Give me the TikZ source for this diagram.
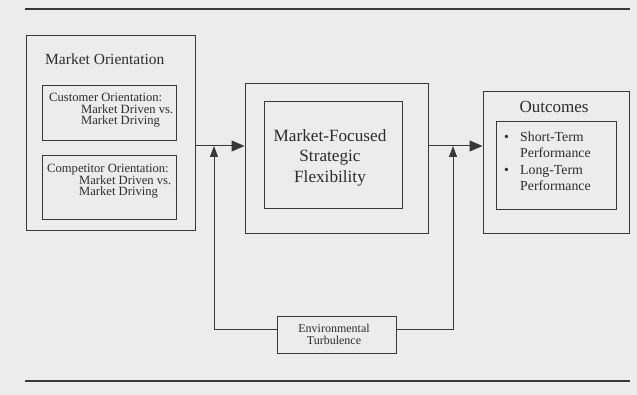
\documentclass[tikz,border=0pt]{standalone}
\usepackage{fontspec}
\setmainfont{Liberation Serif}
\usetikzlibrary{arrows.meta}
\definecolor{paper}{HTML}{ECECEC}
\definecolor{ink}{HTML}{383838}
\definecolor{txt}{HTML}{2C2C2C}
\tikzset{
  box/.style={draw=ink, line width=1pt, inner sep=0pt, anchor=center},
  lbl/.style={text=txt, inner sep=0pt},
  conn/.style={draw=ink, line width=1pt},
  bigtip/.style={-{Triangle[length=13pt,width=11pt]}},
  smalltip/.style={-{Triangle[length=11pt,width=8pt]}},
  rule/.style={draw=ink, line width=2pt},
}
\begin{document}
\begin{tikzpicture}[x=1pt,y=-1pt]
  \useasboundingbox (0,0) rectangle (637,395);
  \fill[paper] (0,0) rectangle (637,395);

  % horizontal rules above and below
  \coordinate (rt1) at (25,9);   \coordinate (rt2) at (630,9);
  \coordinate (rb1) at (25,381); \coordinate (rb2) at (630,381);
  \draw[rule] (rt1) -- (rt2);
  \draw[rule] (rb1) -- (rb2);

  % Market orientation block
  \node[box, minimum width=169pt, minimum height=195pt] (mo) at (110.5,133.5) {};
  \node[lbl, anchor=base west, font=\fontsize{15.5}{18}\selectfont] (motitle) at (45,65) {Market Orientation};
  \node[box, minimum width=134pt, minimum height=55pt] (cust) at (109,113.5) {};
  \node[lbl, anchor=north west, align=left, font=\fontsize{12.6}{11.3}\selectfont] (custtxt) at (49,93.2)
    {Customer Orientation:\\\hspace*{32pt}Market Driven vs.\\\hspace*{32pt}Market Driving};
  \node[box, minimum width=134pt, minimum height=64pt] (comp) at (109,188) {};
  \node[lbl, anchor=north west, align=left, font=\fontsize{12.6}{11.1}\selectfont] (comptxt) at (47,163.6)
    {Competitor Orientation:\\\hspace*{32pt}Market Driven vs.\\\hspace*{32pt}Market Driving};

  % Strategic flexibility block
  \node[box, minimum width=183pt, minimum height=150pt] (mfsf) at (336.5,159) {};
  \node[box, minimum width=138pt, minimum height=107pt] (mfsfin) at (333,155.5) {};
  \node[lbl, anchor=north, align=center, font=\fontsize{17.2}{20.5}\selectfont] (mfsftxt) at (330,129)
    {Market-Focused\\Strategic\\Flexibility};

  % Outcomes block
  \node[box, minimum width=146pt, minimum height=142pt] (out) at (556,163) {};
  \node[lbl, anchor=base, font=\fontsize{17}{20}\selectfont] (outtitle) at (554,112.7) {Outcomes};
  \node[box, minimum width=120pt, minimum height=88pt] (outin) at (556,166) {};
  \node[lbl, anchor=north west, align=left, font=\fontsize{13.8}{15.8}\selectfont] (outtxt) at (504,132)
    {\makebox[16pt][l]{\textbullet}Short-Term\\\hspace*{16pt}Performance\\[1.3pt]
     \makebox[16pt][l]{\textbullet}Long-Term\\\hspace*{16pt}Performance};

  % Environmental turbulence
  \node[box, minimum width=119pt, minimum height=37pt] (turb) at (336.5,334.5) {};
  \node[lbl, anchor=north, align=center, font=\fontsize{12}{12.7}\selectfont] (turbtxt) at (334,323.5)
    {Environmental\\Turbulence};

  % junctions where the moderating lines meet the main arrows
  \coordinate (j1) at (214,146);
  \coordinate (j2) at (453,146);

  \draw[conn, bigtip] (mo.east |- j1) -- (mfsf.west |- j1);
  \draw[conn, bigtip] (mfsf.east |- j2) -- (out.west |- j2);
  \draw[conn, smalltip] ([yshift=5.5pt]turb.west) -| (j1);
  \draw[conn, smalltip] ([yshift=5.5pt]turb.east) -| (j2);
\end{tikzpicture}
\end{document}
